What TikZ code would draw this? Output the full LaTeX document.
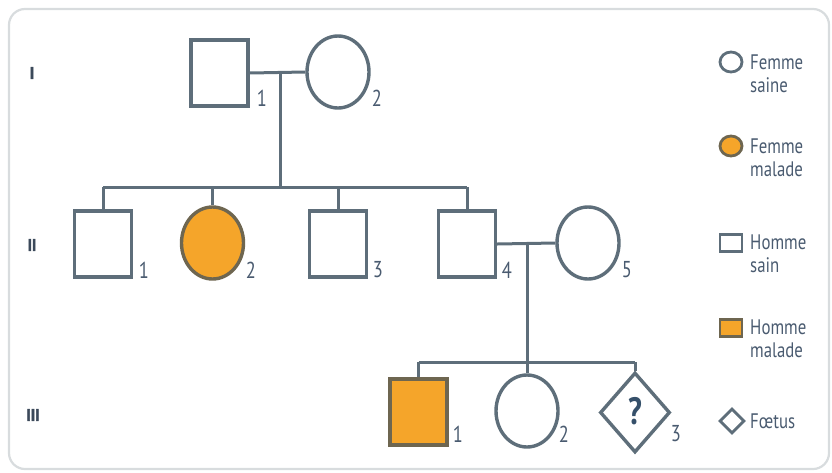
\documentclass[tikz,border=0pt]{standalone}
\usepackage{fontspec}
\setmainfont[FakeStretch=0.8]{PT Sans}
\newfontfamily\genfont[FakeStretch=0.9,FakeBold=2.5]{PT Sans}
\usetikzlibrary{shapes.geometric}
\definecolor{ln}{HTML}{5E6E7A}
\definecolor{txt}{HTML}{4A5B70}
\definecolor{qc}{HTML}{35506A}
\definecolor{org}{HTML}{F5A52A}
\definecolor{orgline}{HTML}{6E6650}
\definecolor{frame}{HTML}{D8DCDE}
\tikzset{
  male/.style={draw=ln, line width=3.4pt, rectangle, minimum width=57pt, minimum height=66pt, inner sep=0pt},
  female/.style={draw=ln, line width=3.4pt, ellipse, minimum width=62pt, minimum height=72pt, inner sep=0pt},
  fetus/.style={draw=ln, line width=3.4pt, diamond, minimum width=70pt, minimum height=80pt, inner sep=0pt},
  ill/.style={fill=org, draw=orgline},
  conn/.style={draw=ln, line width=3pt},
  num/.style={text=txt, font=\fontsize{23}{23}\selectfont, inner sep=0pt},
  gen/.style={text=txt!80!black, font=\genfont\bfseries\fontsize{17}{17}\selectfont, inner sep=0pt},
  leg/.style={text=txt, font=\fontsize{21}{23}\selectfont, align=left, anchor=west, inner sep=0pt},
  lmale/.style={draw=ln, line width=2.8pt, rectangle, minimum width=22pt, minimum height=17pt, inner sep=0pt},
  lfemale/.style={draw=ln, line width=2.8pt, ellipse, minimum width=22pt, minimum height=20pt, inner sep=0pt},
  lfetus/.style={draw=ln, line width=2.8pt, diamond, minimum width=25pt, minimum height=25pt, inner sep=0pt}
}
\begin{document}
\begin{tikzpicture}[x=1pt,y=-1pt]
\useasboundingbox (0,0) rectangle (832,472);
\draw[frame, line width=2.2pt, rounded corners=16pt] (9,9) rectangle (829,469);

% generation labels
\node[gen] (g1) at (32,73) {I};
\node[gen] (g2) at (32,245) {II};
\node[gen] (g3) at (33,415) {III};

% Generation I
\node[male] (I1) at (219.5,73) {};
\node[female] (I2) at (338,72) {};
\node[num] (n11) at (262,98) {1};
\node[num] (n12) at (377,98) {2};
\coordinate (m1) at (280,72);
\coordinate (s1) at (280,187);
\draw[conn] (I1.east) -- (I2.west);
\draw[conn] (m1) -- (s1);

% Generation II
\node[male] (II1) at (103,244) {};
\node[female, ill] (II2) at (212.5,243) {};
\node[male] (II3) at (338,244) {};
\node[male] (II4) at (467,244) {};
\node[female] (II5) at (588,243) {};
\node[num] (n21) at (144,270) {1};
\node[num] (n22) at (251,270) {2};
\node[num] (n23) at (378,270) {3};
\node[num] (n24) at (507,270) {4};
\node[num] (n25) at (627,270) {5};
\coordinate (sl) at (103,187);
\coordinate (sr) at (467,187);
\draw[conn] (sl) -- (sr);
\draw[conn] (sl) -- (II1.north);
\draw[conn] (II2.north |- sl) -- (II2.north);
\draw[conn] (II3.north |- sl) -- (II3.north);
\draw[conn] (sr) -- (II4.north);
\draw[conn] (II4.east) -- (II5.west);
\coordinate (m2) at (527,243);

% Generation III
\node[male, ill] (III1) at (418.5,412) {};
\node[female] (III2) at (527,411) {};
\node[fetus] (III3) at (635,412.5) {};
\node[text=qc, font=\bfseries\fontsize{38}{38}\selectfont, inner sep=0pt] (q) at (635,411) {?};
\node[num] (n31) at (458,434) {1};
\node[num] (n32) at (564,434) {2};
\node[num] (n33) at (676,434) {3};
\coordinate (tl) at (418.5,362);
\coordinate (tr) at (635,362);
\draw[conn] (m2) -- (III2.north);
\draw[conn] (tl) -- (tr);
\draw[conn] (tl) -- (III1.north);
\draw[conn] (tr) -- (III3.north);

% Legend
\node[lfemale] (L1) at (731,62) {};
\node[leg] (t1) at (750,74) {Femme\\saine};
\node[lfemale, ill] (L2) at (731,146) {};
\node[leg] (t2) at (750,158) {Femme\\malade};
\node[lmale] (L3) at (731,243) {};
\node[leg] (t3) at (750,254) {Homme\\sain};
\node[lmale, ill] (L4) at (731,328) {};
\node[leg] (t4) at (750,339) {Homme\\malade};
\node[lfetus] (L5) at (732,421) {};
\node[leg] (t5) at (750,421) {Fœtus};
\end{tikzpicture}
\end{document}
